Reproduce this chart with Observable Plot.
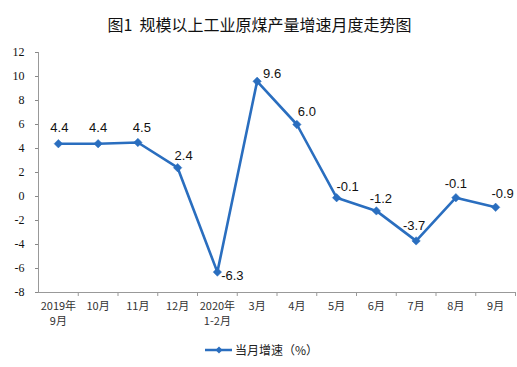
<!DOCTYPE html>
<html><head><meta charset="utf-8">
<script src="https://cdn.jsdelivr.net/npm/d3@7"></script>
<script src="https://cdn.jsdelivr.net/npm/@observablehq/plot@0.6"></script>
<style>
body{margin:0;background:#fff;width:517px;height:367px;overflow:hidden;}
#title{height:40px;line-height:48px;text-align:center;font-family:"Noto Sans CJK SC",sans-serif;font-size:16px;font-weight:400;color:#111;padding-left:2px;}
#legend{position:absolute;left:205px;top:341px;display:flex;align-items:center;font-family:"Noto Sans CJK SC",sans-serif;font-size:12px;color:#222;}
</style></head>
<body>
<div id="title">图1&nbsp;&nbsp;规模以上工业原煤产量增速月度走势图</div>
<div id="chart"></div>
<div id="legend"><svg width="30" height="16"><line x1="0" x2="27" y1="8" y2="8" stroke="#2a6ebf" stroke-width="2.5"/><path d="M14,4.5L17.5,8L14,11.5L10.5,8Z" fill="#2a6ebf"/></svg><span>当月增速（%）</span></div>
<script>
const months = ["2019年\n9月","10月","11月","12月","2020年\n1-2月","3月","4月","5月","6月","7月","8月","9月"];
const growth = [4.4, 4.4, 4.5, 2.4, -6.3, 9.6, 6.0, -0.1, -1.2, -3.7, -0.1, -0.9];
const yTicks = [-8,-6,-4,-2,0,2,4,6,8,10,12];
// label nudges (layout only)
const labelDx = [1, 0, 4, 6, 15, 15, 10, 11, 4.5, -2, 0, 7];
const labelDy = [-16, -16, -15, -12, 4, -7.5, -12.5, -11, -12, -15, -13.5, -13];

const data = growth.map((v, i) => ({i: i + 0.5, v, label: v.toFixed(1), dx: labelDx[i], dy: labelDy[i]}));
const color = "#2a6ebf";

const plot = Plot.plot({
  width: 517,
  height: 296,
  marginTop: 12,
  marginBottom: 44,
  marginLeft: 38,
  marginRight: 2,
  x: {domain: [0, 12], axis: null},
  y: {domain: [-8, 12], axis: null},
  marks: [
    Plot.axisY({ticks: yTicks, tickSize: 3, tickPadding: 11, tickFormat: d => String(d), label: null,
      fontFamily: "'Liberation Serif', 'Times New Roman', serif", fontSize: 12, stroke: "#888", fill: "#111"}),
    Plot.axisX({ticks: d3.range(1, 13), tickSize: 4, tickFormat: () => "", label: null, stroke: "#999"}),
    Plot.axisX({ticks: d3.range(12).map(i => i + 0.5), tickSize: 0, tickPadding: 7, label: null,
      tickFormat: d => months[Math.floor(d)], lineHeight: 1.35,
      fontFamily: "'Noto Sans CJK SC', sans-serif", fontSize: 11, fill: "#333"}),
    Plot.ruleX([0], {stroke: "#999"}),
    Plot.ruleY([-8], {stroke: "#999"}),
    Plot.line(data, {x: "i", y: "v", stroke: color, strokeWidth: 2.6}),
    Plot.dot(data, {x: "i", y: "v", symbol: "diamond2", r: 3.8, fill: color, stroke: color, strokeWidth: 0.5}),
    ...data.map(d => Plot.text([d], {x: "i", y: "v", text: "label", dx: d.dx, dy: d.dy,
      fontFamily: "'Liberation Sans', Arial, sans-serif", fontSize: 13, fill: "#111"}))
  ]
});
document.getElementById("chart").appendChild(plot);
</script>
</body></html>
